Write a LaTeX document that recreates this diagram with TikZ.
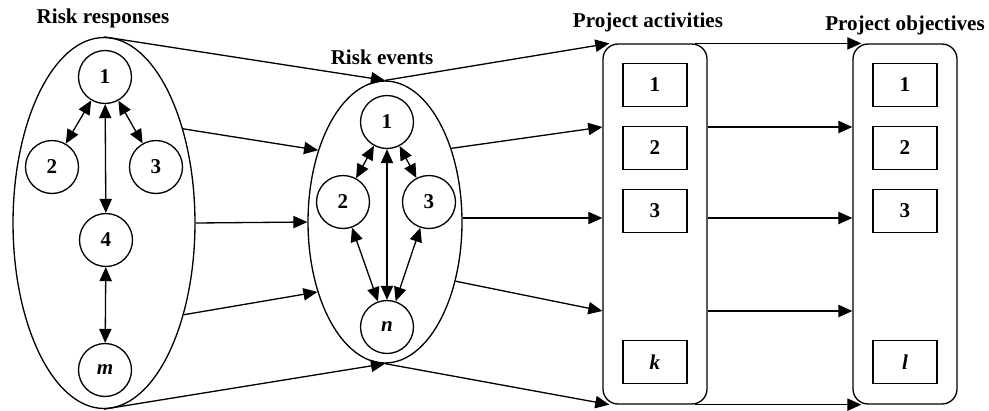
\documentclass[tikz,border=0pt]{standalone}
\usepackage{fontspec}
\setmainfont{Liberation Serif}
\usetikzlibrary{arrows.meta,calc,shapes.geometric}

\begin{document}
\begin{tikzpicture}[
    x=0.02cm, y=-0.02cm,
    font=\fontsize{12}{14}\selectfont\bfseries,
    line width=0.75pt,
    circ/.style={draw, circle, minimum size=1.06cm, inner sep=0pt},
    box/.style={draw, rectangle, minimum width=1.28cm, minimum height=0.86cm, inner sep=0pt},
    group/.style={draw, rounded corners=0.3cm, minimum width=2.08cm, minimum height=7.2cm, inner sep=0pt},
    oval/.style={draw, ellipse, inner sep=0pt},
    arr/.style={-{Triangle[length=8pt,width=7pt]}},
    biarr/.style={{Triangle[length=8pt,width=7pt]}-{Triangle[length=8pt,width=7pt]}}
]
    \useasboundingbox (0,0) rectangle (989,410);

    % Risk responses
    \node[oval, minimum width=3.64cm, minimum height=7.42cm] (resp) at (104,223) {};
    \node[circ] (r1) at (105,77) {1};
    \node[circ] (r2) at (52,167) {2};
    \node[circ] (r3) at (156,167) {3};
    \node[circ] (r4) at (106,240) {4};
    \node[circ] (rm) at (105,370) {\textit{m}};
    \draw[biarr] (r1) -- (r2);
    \draw[biarr] (r1) -- (r3);
    \draw[biarr] (r1) -- (r4);
    \draw[biarr] (r4) -- (rm);

    % Risk events
    \node[oval, minimum width=3.08cm, minimum height=5.64cm] (events) at (385,222) {};
    \node[circ] (e1) at (387,122) {1};
    \node[circ] (e2) at (343,202) {2};
    \node[circ] (e3) at (429,202) {3};
    \node[circ] (en) at (387,327) {\textit{n}};
    \draw[biarr] (e1) -- (e2);
    \draw[biarr] (e1) -- (e3);
    \draw[biarr] (e1) -- (en);
    \draw[biarr] (e2) -- (en);
    \draw[biarr] (e3) -- (en);

    % Project activities and objectives
    \node[group] (acts) at (655,224) {};
    \node[box] (a1) at (655,85) {1};
    \node[box] (a2) at (655,148) {2};
    \node[box] (a3) at (655,211) {3};
    \node[box] (ak) at (655,362) {\textit{k}};

    \node[group] (objs) at (905,224) {};
    \node[box] (o1) at (905,85) {1};
    \node[box] (o2) at (905,148) {2};
    \node[box] (o3) at (905,211) {3};
    \node[box] (ol) at (905,362) {\textit{l}};

    % Rows of the arrows into the boxes
    \coordinate (row1) at (0,127);
    \coordinate (row2) at (0,218);
    \coordinate (row3) at (0,311);

    % Responses to events
    \draw[arr] (resp.north) -- (events.north);
    \draw[arr] (resp.50) -- (events.133);
    \draw[arr] (resp.east) -- (events.west);
    \draw[arr] (resp.-49) -- (events.-134);
    \draw[arr] (resp.south) -- (events.south);

    % Events to activities
    \draw[arr] (events.north) -- ($(acts.north west)+(7,0)$);
    \draw[arr] (events.48) -- (acts.west |- row1);
    \draw[arr] (events.east |- row2) -- (acts.west |- row2);
    \draw[arr] (events.-40) -- (acts.west |- row3);
    \draw[arr] (events.south) -- ($(acts.south west)+(7,0)$);

    % Activities to objectives
    \draw[arr] ($(acts.north east)+(-13,0)$) -- ($(objs.north west)+(9,0)$);
    \draw[arr] (acts.east |- row1) -- (objs.west |- row1);
    \draw[arr] (acts.east |- row2) -- (objs.west |- row2);
    \draw[arr] (acts.east |- row3) -- (objs.west |- row3);
    \draw[arr] ($(acts.south east)+(-13,0)$) -- ($(objs.south west)+(9,0)$);

    % Labels
    \node (lresp) at (103,18) {Risk responses};
    \node (levents) at (382,57) {Risk events};
    \node (lacts) at (648,22) {Project activities};
    \node (lobjs) at (905,25) {Project objectives};
\end{tikzpicture}
\end{document}
